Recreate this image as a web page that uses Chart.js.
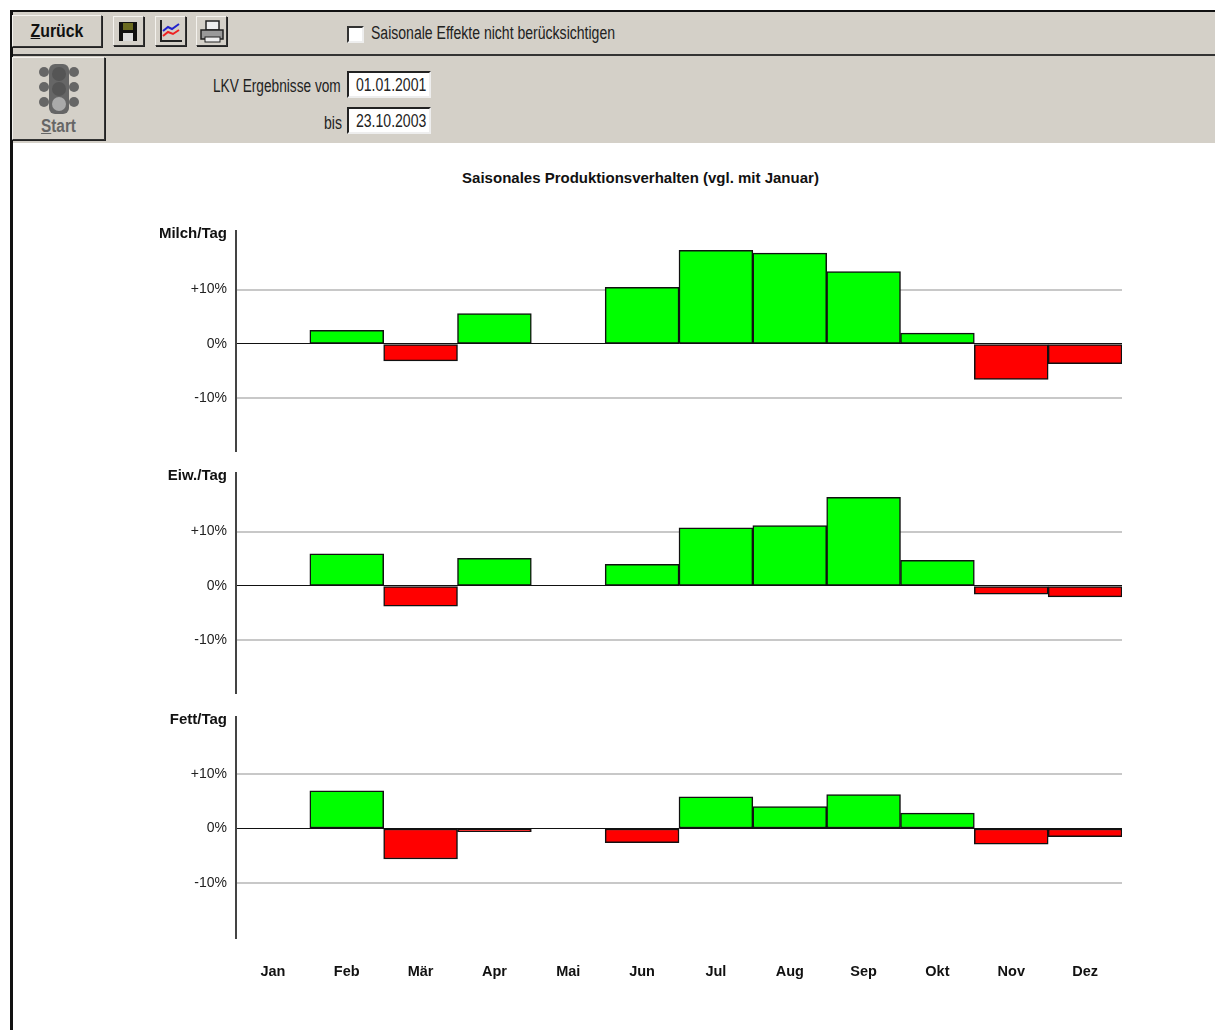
<!DOCTYPE html>
<html>
<head>
<meta charset="utf-8">
<script src="https://cdn.jsdelivr.net/npm/chart.js@4"></script>
<style>
  html, body { margin: 0; padding: 0; background: #fff; width: 1215px; height: 1030px; overflow: hidden; }
  body { position: relative; font-family: "Liberation Sans", Arial, sans-serif; color: #222; }
  .abs { position: absolute; }
  .bar { left: 13px; right: 0; background: #d4d0c8; }
  .btn { position: absolute; box-sizing: border-box; background: #d4d0c8; border: 1px solid #333; border-top-color: #f4f2ee; border-left-color: #f4f2ee; box-shadow: 1px 1px 0 #222; }
  .lbl { position: absolute; font-size: 18px; line-height: 20px; white-space: nowrap; transform: scaleX(0.78); transform-origin: left center; }
  .field { position: absolute; box-sizing: border-box; background: #fff; border: 2px solid #222; border-right-color: #eee; border-bottom-color: #eee; }
  .field span { display: block; font-size: 18px; line-height: 24px; padding-left: 7px; white-space: nowrap; transform: scaleX(0.78); transform-origin: 7px center; }
  .name { position: absolute; width: 227px; left: 0; text-align: right; font: bold 15px "Liberation Sans", Arial, sans-serif; color: #111; }
  canvas { position: absolute; left: 140px; }
</style>
</head>
<body>
<div class="abs" style="left:10px;top:10px;width:1205px;height:2px;background:#111"></div>
<div class="abs" style="left:10px;top:10px;width:3px;height:1020px;background:#111"></div>
<div class="abs bar" style="top:12px;height:42px"></div>
<div class="abs" style="left:13px;right:0;top:54px;height:2px;background:#333"></div>
<div class="abs bar" style="top:56px;height:87px"></div>

<div class="btn" style="left:12px;top:15px;width:90px;height:32px;text-align:center;font:bold 18px/31px 'Liberation Sans',sans-serif;color:#111"><div style="transform:scaleX(0.88)"><u>Z</u>urück</div></div>
<div class="btn" style="left:113px;top:16px;width:31px;height:30px">
  <svg width="29" height="28"><rect x="5" y="5" width="18" height="19" fill="#111"/><rect x="9" y="6" width="10" height="7" fill="#6b6b20"/><rect x="9" y="16" width="10" height="8" fill="#ddd"/></svg>
</div>
<div class="btn" style="left:155px;top:16px;width:31px;height:30px">
  <svg width="29" height="28"><path d="M5 3V24H26" fill="none" stroke="#222" stroke-width="2"/><path d="M7 14L12 10L16 12L23 7" fill="none" stroke="#22c" stroke-width="2"/><path d="M7 19L12 15L17 17L23 13" fill="none" stroke="#e22" stroke-width="2"/></svg>
</div>
<div class="btn" style="left:196px;top:16px;width:31px;height:30px">
  <svg width="29" height="28"><rect x="9" y="4" width="13" height="9" fill="#eee" stroke="#222" stroke-width="1.5"/><rect x="4" y="13" width="22" height="9" fill="#999" stroke="#222" stroke-width="1.5"/><rect x="8" y="20" width="15" height="5" fill="#eee" stroke="#222"/></svg>
</div>

<div class="abs" style="left:347px;top:26px;width:17px;height:17px;box-sizing:border-box;background:#fff;border:2px solid #333;border-right-color:#eee;border-bottom-color:#eee"></div>
<div class="lbl" style="left:371px;top:23px">Saisonale Effekte nicht berücksichtigen</div>

<div class="btn" style="left:12px;top:57px;width:93px;height:83px;text-align:center">
  <svg width="40" height="52" style="position:absolute;left:26px;top:5px">
    <g fill="#666"><rect x="10" y="1" width="20" height="50" rx="6"/><circle cx="5" cy="9" r="5"/><circle cx="35" cy="9" r="5"/><circle cx="5" cy="24" r="5"/><circle cx="35" cy="24" r="5"/><circle cx="5" cy="39" r="5"/><circle cx="35" cy="39" r="5"/></g>
    <circle cx="20" cy="11" r="7" fill="#555"/><circle cx="20" cy="26" r="7" fill="#555"/><circle cx="20" cy="41" r="7" fill="#aaa"/>
  </svg>
  <div style="position:absolute;left:0;right:0;top:58px;font-size:18px;line-height:20px;color:#666;font-weight:bold;transform:scaleX(0.85)"><u>S</u>tart</div>
</div>

<div class="lbl" style="left:213px;top:76px;transform:scaleX(0.76)">LKV Ergebnisse vom</div>
<div class="field" style="left:347px;top:71px;width:84px;height:27px"><span>01.01.2001</span></div>
<div class="lbl" style="left:324px;top:113px">bis</div>
<div class="field" style="left:347px;top:107px;width:84px;height:27px"><span>23.10.2003</span></div>

<div class="abs" style="left:0;width:1215px;top:169px;padding-left:66px;box-sizing:border-box;text-align:center;font:bold 15px 'Liberation Sans',Arial,sans-serif;color:#111">Saisonales Produktionsverhalten (vgl. mit Januar)</div>

<canvas id="milch" style="top:214px" width="982" height="254"></canvas>
<canvas id="eiweiss" style="top:456px" width="982" height="254"></canvas>
<canvas id="fett" style="top:700px" width="982" height="299"></canvas>

<div class="name" style="top:224px">Milch/Tag</div>
<div class="name" style="top:466px">Eiw./Tag</div>
<div class="name" style="top:710px">Fett/Tag</div>

<script>
const months = ['Jan', 'Feb', 'Mär', 'Apr', 'Mai', 'Jun', 'Jul', 'Aug', 'Sep', 'Okt', 'Nov', 'Dez'];
const milch = [0, 2.5, -3.1, 5.6, 0, 10.4, 17.2, 16.7, 13.3, 2.0, -6.5, -3.6];
const eiweiss = [0, 5.9, -3.7, 5.1, 0, 4.0, 10.7, 11.1, 16.3, 4.7, -1.5, -2.0];
const fett = [0, 6.9, -5.6, -0.6, 0, -2.6, 5.8, 4.0, 6.2, 2.8, -2.9, -1.5];
const yTicks = [-10, 0, 10];
const milchRange = [-19.6, 20.7];
const eiweissRange = [-19.6, 20.7];
const fettRange = [-20, 20.35];

function drawPanel(id, values, range, showMonths) {
    new Chart(document.getElementById(id), {
        type: 'bar',
        data: {
            labels: months,
            datasets: [{
                data: values,
                backgroundColor: values.map(v => v < 0 ? '#ff0000' : '#00ff00'),
                borderColor: '#111',
                borderWidth: 1.5,
                borderSkipped: false,
                barPercentage: 1,
                categoryPercentage: 1
            }]
        },
        options: {
            responsive: false,
            animation: false,
            layout: { padding: 0, autoPadding: false },
            plugins: { legend: { display: false }, tooltip: { enabled: false } },
            scales: {
                x: {
                    display: showMonths,
                    grid: { display: false },
                    border: { display: false },
                    ticks: { color: '#111', font: { family: 'Liberation Sans', size: 14.5, weight: 'bold' }, padding: 18, maxRotation: 0 }
                },
                y: {
                    min: range[0],
                    max: range[1],
                    afterFit: scale => { scale.width = 96; },
                    afterBuildTicks: scale => { scale.ticks = yTicks.map(value => ({ value })); },
                    border: { display: true, color: '#444', width: 2 },
                    grid: {
                        drawTicks: false,
                        color: c => c.tick.value === 0 ? '#111' : '#c8c8c8',
                        lineWidth: c => c.tick.value === 0 ? 1 : 2
                    },
                    ticks: {
                        color: '#222',
                        padding: 9,
                        font: { family: 'Liberation Sans', size: 14 },
                        callback: v => (v > 0 ? '+' : '') + v + '%'
                    }
                }
            }
        }
    });
}

drawPanel('milch', milch, milchRange, false);
drawPanel('eiweiss', eiweiss, eiweissRange, false);
drawPanel('fett', fett, fettRange, true);
</script>
</body>
</html>
